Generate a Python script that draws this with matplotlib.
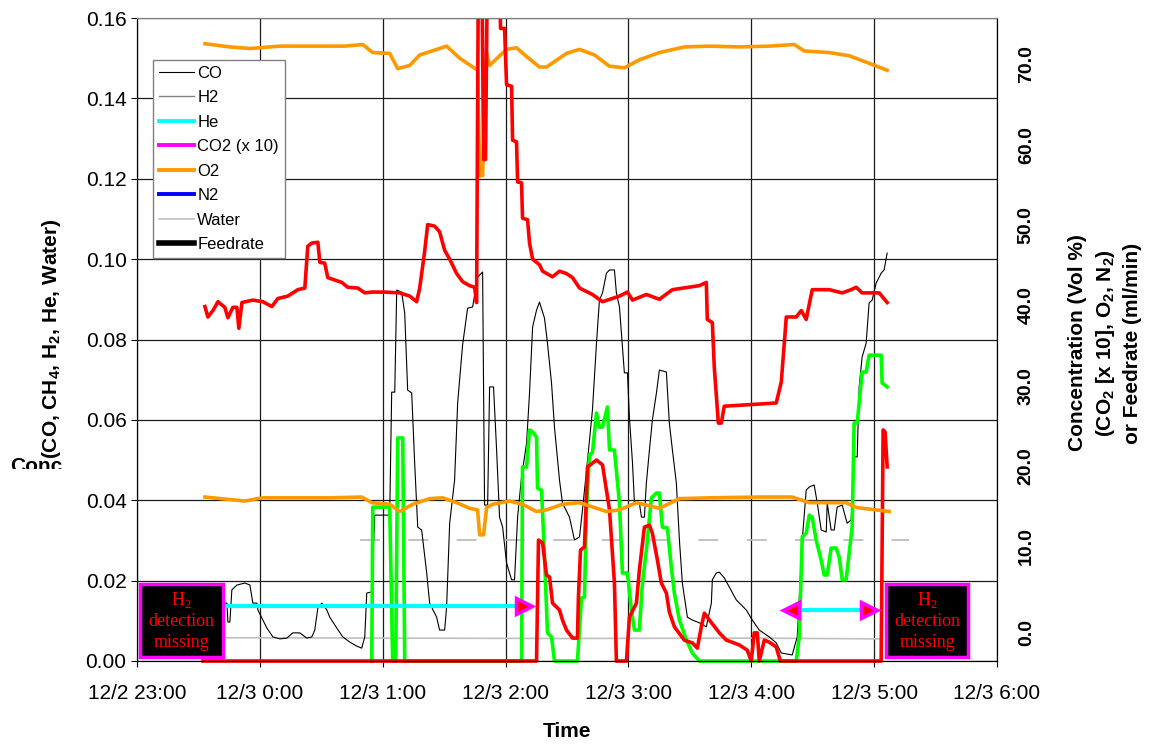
"""
Gas analyzer trace: CO / O2 / CO2 concentrations vs time (12/2 - 12/3)
"""

import matplotlib
matplotlib.use('Agg')
import matplotlib.pyplot as plt
from matplotlib.lines import Line2D
from matplotlib.patches import Rectangle
from matplotlib.transforms import Bbox, TransformedBbox, blended_transform_factory, offset_copy

plt.rcParams['font.family'] = ['Liberation Sans', 'DejaVu Sans']

# Time axis: hours after 12/2 23:00
hour_ticks = [0, 1, 2, 3, 4, 5, 6, 7]
hour_labels = ['12/2 23:00', '12/3 0:00', '12/3 1:00', '12/3 2:00',
               '12/3 3:00', '12/3 4:00', '12/3 5:00', '12/3 6:00']
left_ticks = [0.00, 0.02, 0.04, 0.06, 0.08, 0.10, 0.12, 0.14, 0.16]
right_ticks = [0, 10, 20, 30, 40, 50, 60, 70]

# CO (left axis)
co_t = [0.561, 0.634, 0.691, 0.732, 0.740, 0.756, 0.772, 0.813, 0.878, 0.919,
        0.943, 0.976, 0.984, 1.024, 1.057, 1.106, 1.163, 1.220, 1.268, 1.325,
        1.382, 1.423, 1.447, 1.472, 1.504, 1.545, 1.569, 1.626, 1.675, 1.732,
        1.789, 1.829, 1.854, 1.870, 1.911, 1.935, 2.057, 2.073, 2.098, 2.114,
        2.154, 2.179, 2.203, 2.236, 2.260, 2.285, 2.317, 2.358, 2.382, 2.439,
        2.463, 2.504, 2.520, 2.545, 2.585, 2.610, 2.650, 2.691, 2.732, 2.772,
        2.813, 2.829, 2.854, 2.870, 2.902, 2.927, 2.951, 2.976, 3.008, 3.049,
        3.073, 3.098, 3.130, 3.171, 3.195, 3.220, 3.252, 3.276, 3.317, 3.341,
        3.374, 3.398, 3.439, 3.463, 3.520, 3.561, 3.602, 3.626, 3.659, 3.707,
        3.740, 3.764, 3.789, 3.821, 3.846, 3.886, 3.902, 3.927, 3.967, 3.992,
        4.008, 4.033, 4.049, 4.089, 4.106, 4.130, 4.146, 4.171, 4.195, 4.228,
        4.252, 4.309, 4.333, 4.358, 4.390, 4.415, 4.439, 4.480, 4.520, 4.577,
        4.634, 4.675, 4.683, 4.715, 4.740, 4.780, 4.821, 4.878, 4.959, 5.008,
        5.065, 5.146, 5.203, 5.244, 5.333, 5.374, 5.415, 5.447, 5.472, 5.512,
        5.537, 5.569, 5.610, 5.618, 5.650, 5.675, 5.699, 5.740, 5.780, 5.813,
        5.837, 5.862, 5.878, 5.902, 5.935, 5.959, 5.984, 6.016, 6.057, 6.081,
        6.106]
co_v = [0.0152, 0.0157, 0.0144, 0.0144, 0.0097, 0.0097, 0.0177, 0.0189, 0.0194, 0.0189,
        0.0144, 0.0144, 0.0127, 0.0102, 0.0082, 0.0060, 0.0055, 0.0057, 0.0070, 0.0070,
        0.0057, 0.0060, 0.0077, 0.0132, 0.0144, 0.0127, 0.0109, 0.0082, 0.0060, 0.0047,
        0.0037, 0.0032, 0.0060, 0.0169, 0.0172, 0.0363, 0.0363, 0.0669, 0.0669, 0.0923,
        0.0918, 0.0866, 0.0674, 0.0667, 0.0493, 0.0333, 0.0326, 0.0219, 0.0144, 0.0109,
        0.0077, 0.0077, 0.0134, 0.0343, 0.0450, 0.0642, 0.0786, 0.0878, 0.0881, 0.0955,
        0.0968, 0.0388, 0.0388, 0.0682, 0.0682, 0.0525, 0.0358, 0.0333, 0.0244, 0.0202,
        0.0202, 0.0358, 0.0458, 0.0542, 0.0667, 0.0831, 0.0873, 0.0893, 0.0853, 0.0791,
        0.0692, 0.0582, 0.0450, 0.0393, 0.0358, 0.0301, 0.0309, 0.0376, 0.0475, 0.0624,
        0.0791, 0.0898, 0.0916, 0.0965, 0.0973, 0.0973, 0.0916, 0.0881, 0.0717, 0.0717,
        0.0607, 0.0493, 0.0393, 0.0393, 0.0358, 0.0358, 0.0443, 0.0525, 0.0600, 0.0667,
        0.0724, 0.0719, 0.0592, 0.0525, 0.0443, 0.0301, 0.0194, 0.0109, 0.0102, 0.0095,
        0.0085, 0.0144, 0.0202, 0.0219, 0.0221, 0.0207, 0.0184, 0.0152, 0.0127, 0.0102,
        0.0077, 0.0060, 0.0045, 0.0020, 0.0015, 0.0060, 0.0301, 0.0425, 0.0433, 0.0438,
        0.0393, 0.0326, 0.0321, 0.0393, 0.0326, 0.0326, 0.0383, 0.0388, 0.0343, 0.0351,
        0.0508, 0.0508, 0.0682, 0.0756, 0.0791, 0.0891, 0.0898, 0.0940, 0.0965, 0.0973,
        0.1015]

# lower red trace (left axis)
rl_t = [0.537, 3.252, 3.268, 3.301, 3.333, 3.358, 3.382, 3.439, 3.463, 3.496,
        3.545, 3.585, 3.593, 3.610, 3.642, 3.667, 3.740, 3.789, 3.846, 3.886,
        3.902, 3.984, 4.008, 4.065, 4.089, 4.130, 4.171, 4.195, 4.236, 4.268,
        4.309, 4.333, 4.374, 4.455, 4.520, 4.561, 4.593, 4.618, 4.659, 4.740,
        4.797, 4.902, 4.967, 5.000, 5.024, 5.049, 5.065, 5.106, 5.146, 5.203,
        5.236, 6.057, 6.073, 6.089, 6.106]
rl_v = [0, 0, 0.0301, 0.0294, 0.0214, 0.0209, 0.0144, 0.0127, 0.0102, 0.0077,
        0.0057, 0.0057, 0.0159, 0.0276, 0.0284, 0.0483, 0.0500, 0.0488, 0.0376, 0.0194,
        0, 0, 0.0109, 0.0144, 0.0226, 0.0333, 0.0338, 0.0318, 0.0251, 0.0194,
        0.0169, 0.0122, 0.0085, 0.0052, 0.0045, 0.0032, 0.0085, 0.0119, 0.0102, 0.0070,
        0.0052, 0.0040, 0.0027, 0, 0.0070, 0.0070, 0, 0.0052, 0.0047, 0.0035,
        0, 0, 0.0575, 0.0570, 0.0483]

# green trace (left axis)
g_t = [1.911, 1.919, 2.057, 2.081, 2.106, 2.122, 2.163, 2.179, 3.130, 3.138,
       3.171, 3.195, 3.220, 3.252, 3.260, 3.293, 3.317, 3.341, 3.374, 3.398,
       3.585, 3.618, 3.642, 3.659, 3.683, 3.707, 3.740, 3.764, 3.789, 3.829,
       3.846, 3.886, 3.927, 3.951, 3.992, 4.024, 4.049, 4.089, 4.114, 4.146,
       4.187, 4.228, 4.252, 4.276, 4.317, 4.350, 4.374, 4.415, 4.472, 4.520,
       4.577, 5.366, 5.390, 5.415, 5.447, 5.472, 5.496, 5.528, 5.569, 5.593,
       5.618, 5.650, 5.691, 5.715, 5.740, 5.772, 5.797, 5.821, 5.837, 5.862,
       5.878, 5.902, 5.935, 5.959, 6.057, 6.065, 6.106]
g_v = [0, 0.0383, 0.0383, 0, 0, 0.0555, 0.0555, 0, 0, 0.0483,
       0.0483, 0.0575, 0.0570, 0.0557, 0.0430, 0.0425, 0.0259, 0.0070, 0.0060, 0,
       0, 0.0157, 0.0159, 0.0376, 0.0513, 0.0518, 0.0617, 0.0582, 0.0582, 0.0632,
       0.0525, 0.0525, 0.0393, 0.0219, 0.0219, 0.0127, 0.0077, 0.0077, 0.0194, 0.0276,
       0.0406, 0.0418, 0.0418, 0.0333, 0.0331, 0.0231, 0.0169, 0.0102, 0.0052, 0.0020,
       0, 0, 0.0060, 0.0309, 0.0318, 0.0363, 0.0358, 0.0301, 0.0251, 0.0214,
       0.0214, 0.0281, 0.0281, 0.0259, 0.0202, 0.0202, 0.0269, 0.0333, 0.0592, 0.0592,
       0.0642, 0.0719, 0.0719, 0.0761, 0.0761, 0.0692, 0.0682]

# water (left axis) and dashed grey trace
w_t = [0.553, 2.0, 3.5, 5.0, 6.065]
w_v = [0.0058, 0.0057, 0.0056, 0.0057, 0.0055]
dash_t = [1.813, 6.285]
dash_v = [0.0301, 0.0301]

# upper red trace (right axis, vol %) - values above the axis get clipped
ru_t = [0.553, 0.577, 0.618, 0.659, 0.715, 0.740, 0.780, 0.813, 0.829, 0.854,
        0.943, 1.024, 1.098, 1.146, 1.228, 1.309, 1.366, 1.390, 1.423, 1.472,
        1.488, 1.528, 1.553, 1.667, 1.715, 1.797, 1.854, 1.911, 2.016, 2.138,
        2.220, 2.276, 2.301, 2.341, 2.366, 2.423, 2.463, 2.504, 2.545, 2.602,
        2.650, 2.707, 2.748, 2.764, 2.780, 2.805, 2.821, 2.837, 2.854, 2.943,
        2.959, 2.992, 3.008, 3.049, 3.057, 3.089, 3.098, 3.130, 3.138, 3.179,
        3.195, 3.220, 3.276, 3.301, 3.382, 3.439, 3.496, 3.545, 3.602, 3.707,
        3.789, 3.927, 3.992, 4.033, 4.146, 4.252, 4.358, 4.577, 4.634, 4.642,
        4.683, 4.699, 4.732, 4.756, 4.780, 5.203, 5.244, 5.285, 5.366, 5.407,
        5.447, 5.496, 5.634, 5.740, 5.813, 5.854, 5.902, 6.041, 6.106]
ru_v = [39.1, 37.8, 38.6, 39.7, 39.0, 37.7, 39.0, 39.0, 36.4, 39.6,
        39.9, 39.7, 39.1, 40.1, 40.4, 41.2, 41.4, 46.6, 47.0, 47.1,
        44.6, 44.5, 42.7, 42.1, 41.5, 41.4, 40.8, 40.9, 40.9, 40.8,
        40.4, 39.7, 41.4, 45.9, 49.3, 49.1, 48.4, 46.1, 45.0, 43.2,
        42.2, 41.7, 41.5, 39.6, 85, 85, 57.4, 57.4, 85, 85,
        73.7, 73.7, 66.7, 66.5, 59.8, 59.6, 54.6, 54.5, 50.1, 49.9,
        47.0, 45.0, 44.3, 43.5, 42.8, 43.5, 43.2, 42.7, 41.4, 40.6,
        39.7, 40.4, 40.9, 39.9, 40.6, 40.0, 41.2, 41.7, 42.1, 37.5,
        37.1, 31.5, 24.6, 24.6, 26.7, 27.1, 29.7, 37.8, 37.8, 38.6,
        37.5, 41.2, 41.2, 40.8, 41.2, 41.5, 40.8, 40.8, 39.6]

# O2 traces (right axis)
ou_t = [0.553, 0.756, 0.919, 1.163, 1.431, 1.691, 1.837, 1.919, 2.057, 2.122,
        2.220, 2.301, 2.520, 2.626, 2.772, 2.789, 2.813, 2.846, 2.870, 3.008,
        3.089, 3.171, 3.276, 3.333, 3.496, 3.602, 3.724, 3.846, 3.967, 4.089,
        4.252, 4.455, 4.659, 4.902, 5.146, 5.350, 5.431, 5.634, 5.797, 5.919,
        6.106]
ou_v = [71.8, 71.4, 71.2, 71.5, 71.5, 71.5, 71.7, 70.7, 70.6, 68.7,
        69.1, 70.4, 71.5, 70.0, 68.5, 55.4, 55.4, 70.6, 69.1, 71.1,
        71.3, 70.2, 68.9, 68.9, 70.6, 71.1, 70.4, 69.0, 68.8, 69.8,
        70.7, 71.4, 71.5, 71.4, 71.5, 71.7, 70.9, 70.7, 70.3, 69.6,
        68.5]
ol_t = [0.553, 0.878, 1.016, 1.569, 1.829, 1.911, 2.057, 2.138, 2.244, 2.382,
        2.488, 2.602, 2.707, 2.772, 2.789, 2.821, 2.846, 2.894, 3.033, 3.138,
        3.252, 3.333, 3.463, 3.602, 3.821, 3.927, 4.065, 4.252, 4.415, 4.659,
        5.065, 5.333, 5.472, 5.772, 5.854, 6.122]
ol_v = [15.4, 14.9, 15.3, 15.3, 15.4, 14.7, 14.5, 13.6, 14.5, 15.2,
        15.3, 14.7, 14.0, 13.8, 10.7, 10.7, 14.1, 14.5, 14.9, 14.5,
        13.6, 13.8, 14.5, 14.7, 13.6, 13.8, 14.7, 14.0, 15.2, 15.3,
        15.4, 15.4, 14.7, 14.7, 14.1, 13.6]

# legend entries
legend_labels = ['CO', 'H2', 'He', 'CO2 (x 10)', 'O2', 'N2', 'Water', 'Feedrate']
legend_colors = ['#000000', '#808080', '#00ffff', '#ff00ff', '#ff9900', '#0000ff', '#c0c0c0', '#000000']
legend_widths = [0.8, 1.0, 2.8, 2.8, 2.8, 2.8, 1.2, 4.0]

# "H2 detection missing" notes: boxes (time span, conc span) and arrows
note_boxes = [(0.024, 0.699), (6.098, 6.764)]
note_box_v = (0.0010, 0.0192)
arrow1_t = [0.699, 3.10]
arrow1_v = 0.0137
arrow1_head = 3.15
arrow2_t = [5.325, 5.959]
arrow2_v = 0.0127


def main():
    fig = plt.figure(figsize=(11.6, 7.44), dpi=100)
    ax = fig.add_axes([137 / 1160, 83 / 744, 860 / 1160, 643 / 744])
    ax2 = ax.twinx()

    # left axis
    ax.set_xlim(0, 7)
    ax.set_ylim(0, 0.16)
    ax.set_xticks(hour_ticks)
    ax.set_xticklabels(hour_labels)
    ax.set_yticks(left_ticks)
    ax.set_yticklabels([f'{t:.2f}' for t in left_ticks])
    ax.grid(True, color='#1a1a1a', lw=0.9)
    ax.set_axisbelow(True)
    ax.tick_params(axis='x', direction='out', length=4.5, width=0.8, labelsize=15, pad=12)
    ax.tick_params(axis='y', direction='out', length=4.5, width=0.8, labelsize=15, pad=3)
    ax.set_xlabel('Time', fontsize=15, fontweight='bold', labelpad=14)

    ax.plot(dash_t, dash_v, color='#b8b8b8', lw=1.2, ls=(0, (12, 17)))
    ax.plot(w_t, w_v, color='#c0c0c0', lw=1.2)
    ax.plot(co_t, co_v, color='black', lw=0.8)
    ax.plot(g_t, g_v, color='#00ff00', lw=2.6, clip_on=False)
    ax.plot(rl_t, rl_v, color='#ff0000', lw=2.6, clip_on=False)

    # arrows
    ax.plot(arrow1_t, [arrow1_v] * 2, color='#00ffff', lw=3, zorder=4)
    ax.plot([arrow1_head], [arrow1_v], marker='>', ms=11, mfc='red', mec='#ff00ff', mew=2.5, zorder=5)
    ax.plot(arrow2_t, [arrow2_v] * 2, color='#00ffff', lw=3, zorder=4)
    ax.plot([arrow2_t[0]], [arrow2_v], marker='<', ms=11, mfc='red', mec='#ff00ff', mew=2.5, zorder=5)
    ax.plot([arrow2_t[1]], [arrow2_v], marker='>', ms=11, mfc='red', mec='#ff00ff', mew=2.5, zorder=5)

    # note boxes
    for t0, t1 in note_boxes:
        ax.add_patch(Rectangle((t0, note_box_v[0]), t1 - t0, note_box_v[1] - note_box_v[0],
                               facecolor='black', edgecolor='#ff00ff', lw=2.5, zorder=6, clip_on=False))
        ax.text((t0 + t1) / 2, sum(note_box_v) / 2, 'H$_\\mathregular{2}$\ndetection\nmissing',
                color='red', family='Liberation Serif', fontsize=13, ha='center', va='center',
                linespacing=1.3, zorder=7)

    # right axis (labels placed by hand, Excel style)
    ax2.set_ylim(-5, 75)
    ax2.set_yticks(right_ticks)
    ax2.set_yticklabels([])
    ax2.tick_params(axis='y', length=0)
    lbl_trans = offset_copy(blended_transform_factory(ax2.transAxes, ax2.transData),
                            fig=fig, x=15, y=-18, units='points')
    for t in right_ticks:
        ax2.text(1.0, t, f'{t:.1f}', transform=lbl_trans, rotation=90, ha='left', va='bottom',
                 fontsize=14, fontweight='bold', clip_on=False)
    ax2.plot(ou_t, ou_v, color='#ff9900', lw=2.6)
    ax2.plot(ol_t, ol_v, color='#ff9900', lw=2.6)
    ax2.plot(ru_t, ru_v, color='#ff0000', lw=2.6)

    for a in (ax, ax2):
        a.spines['top'].set_color('#808080')
        for s in ('left', 'right', 'bottom'):
            a.spines[s].set_color('black')

    handles = [Line2D([], [], color=c, lw=w) for c, w in zip(legend_colors, legend_widths)]
    leg = ax2.legend(handles, legend_labels, loc='upper left',
                     bbox_to_anchor=((153 - 137) / 860, (661 - 60) / 643), borderaxespad=0,
                     fancybox=False, edgecolor='#808080', framealpha=1, fontsize=12,
                     handlelength=2.1, handletextpad=0.2, labelspacing=0.57, borderpad=0.35)
    leg.get_frame().set_linewidth(1.0)

    # axis titles
    fig.text(52 / 1160, 1 - 339 / 744, '(CO, CH$_\\mathregular{4}$, H$_\\mathregular{2}$, He, Water)',
             rotation=90, ha='center', va='center', fontsize=15, fontweight='bold')
    conc = fig.text(10 / 1160, 1 - 457 / 744, 'Conc', fontsize=15, fontweight='bold',
                    ha='left', va='top')
    conc.set_clip_box(TransformedBbox(Bbox([[0, 1 - 469 / 744], [80 / 1160, 1 - 440 / 744]]),
                                      fig.transFigure))
    fig.text(1105 / 1160, 1 - 343 / 744,
             'Concentration (Vol %)\n(CO$_\\mathregular{2}$ [x 10], O$_\\mathregular{2}$, N$_\\mathregular{2}$)\nor Feedrate (ml/min)',
             rotation=90, ha='center', va='center', multialignment='center',
             fontsize=15, fontweight='bold', linespacing=1.4)

    fig.savefig('out.png', dpi=100)
    plt.close(fig)


if __name__ == "__main__":
    main()
